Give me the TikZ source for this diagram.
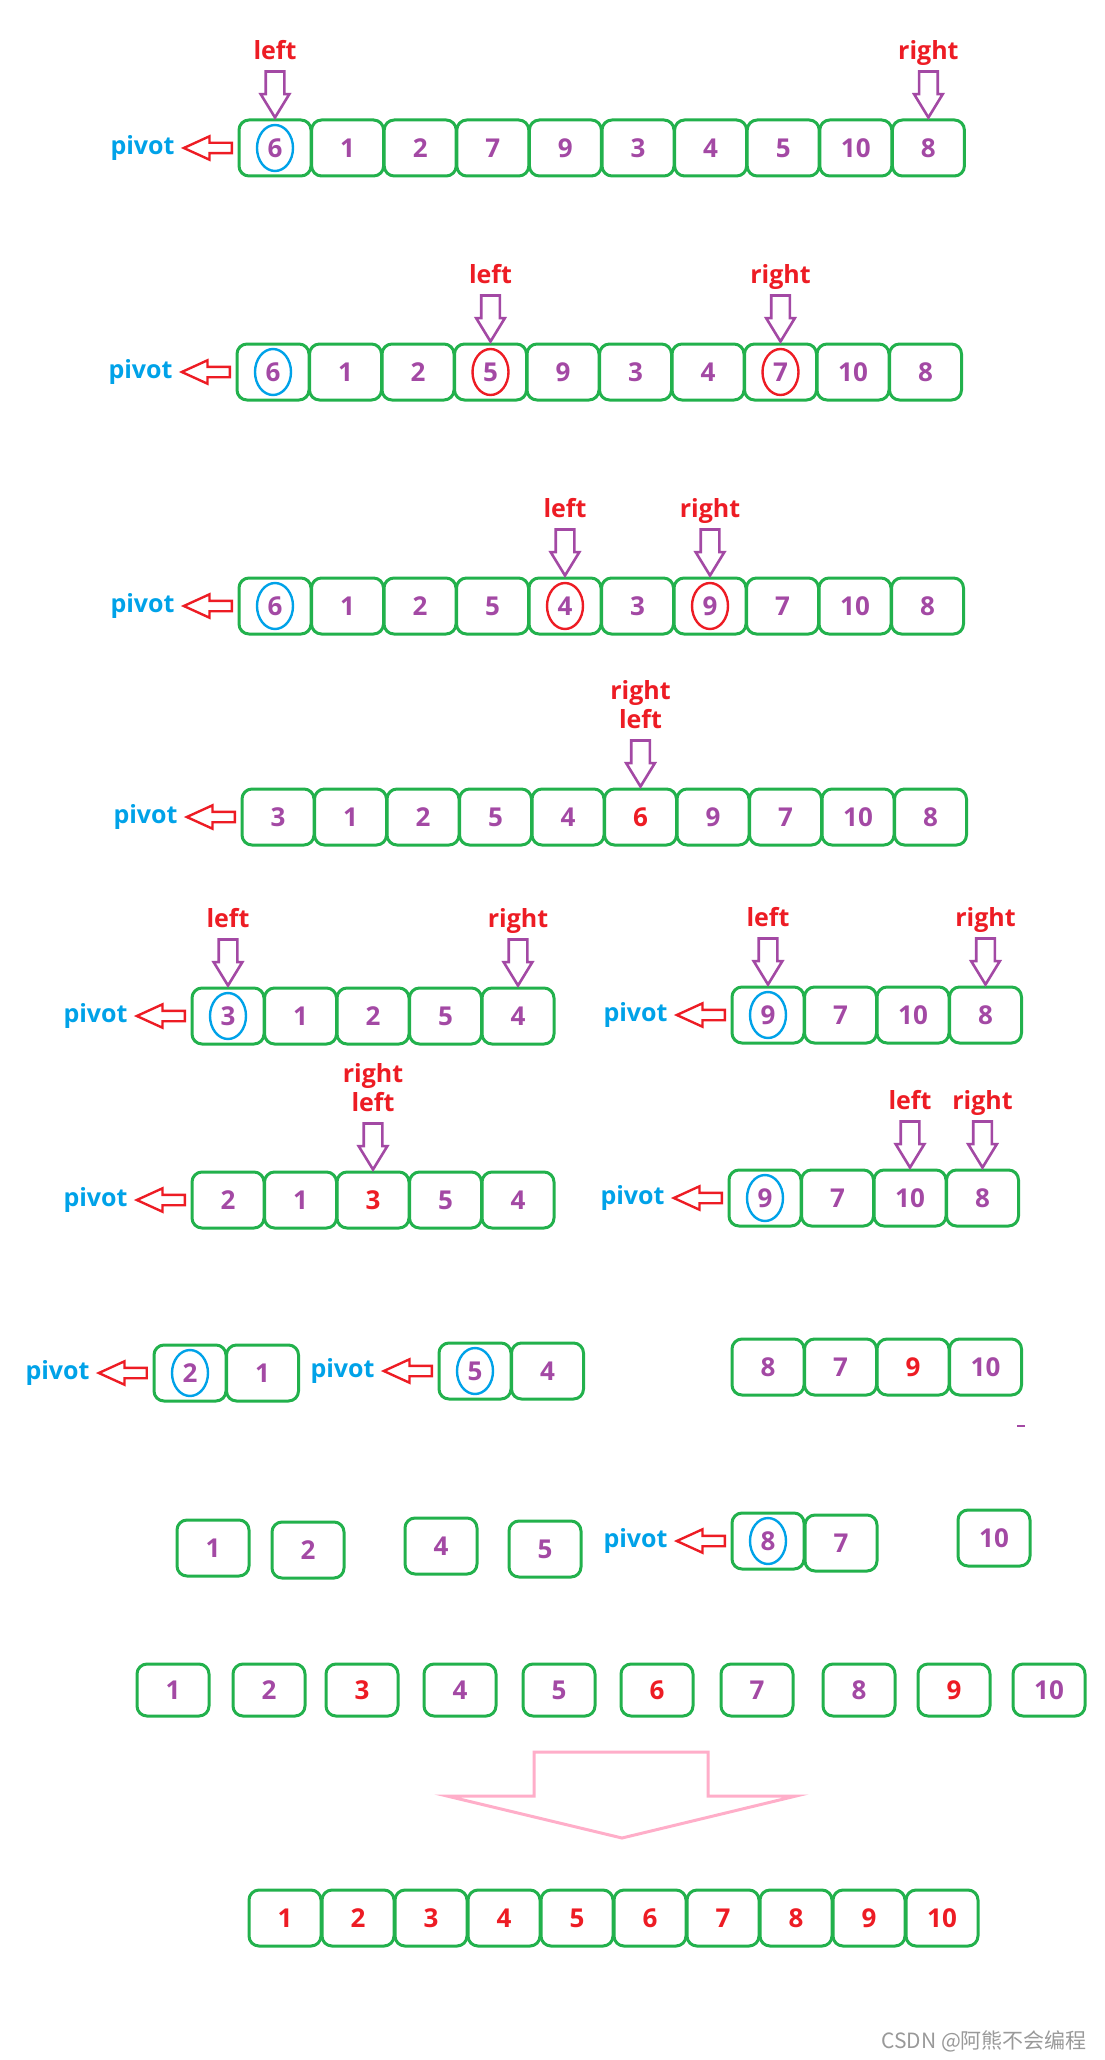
\documentclass[tikz,border=0pt]{standalone}
\usepackage{fontspec}
\setmainfont{Open Sans}
\newfontfamily\cjkfont{Noto Sans CJK SC}
\usetikzlibrary{positioning,shapes.geometric,shapes.arrows}
\definecolor{paintgreen}{HTML}{22B14C}
\definecolor{paintpurple}{HTML}{A349A4}
\definecolor{paintred}{HTML}{ED1C24}
\definecolor{paintblue}{HTML}{00A2E8}
\definecolor{paintpink}{HTML}{FFAEC9}

\begin{document}
\begin{tikzpicture}[x=0.5pt,y=-0.5pt,
  cell/.style={draw=paintgreen,line width=1.5pt,rounded corners=5pt,
              minimum width=36pt,minimum height=28pt,inner sep=0pt,outer sep=0pt,
              font=\fontsize{13}{15}\selectfont\bfseries,text=paintpurple},
  ring/.style={ellipse,draw=#1,line width=1.2pt,minimum width=18pt,
              minimum height=23pt,inner sep=0pt},
  ptr/.style={single arrow,draw=paintpurple,line width=1.3pt,shape border rotate=270,
              minimum height=23pt,single arrow head extend=2.5pt,
              single arrow tip angle=63,inner sep=4pt},
  ptrlbl/.style={font=\fontsize{12.5}{14.5}\selectfont\bfseries,text=paintred,
              align=center,inner sep=1pt,text depth=0pt},
  piv/.style={single arrow,draw=paintred,line width=1.2pt,shape border rotate=180,
              minimum height=24pt,single arrow head extend=3.25pt,
              single arrow tip angle=49,inner sep=2pt},
  pivlbl/.style={font=\fontsize{12.5}{15}\selectfont\bfseries,text=paintblue,inner sep=1pt}]
  \useasboundingbox (0,0) rectangle (1104,2060);

  % first pass
  \foreach \v [count=\i] in {6,1,2,7,9,3,4,5,10,8}
    \node[cell] (a\i) at ({202.4+72.6*\i},148) {\v};
  \node[ring=paintblue] (a1o) at (a1) {};
  \node[ptr,above=0pt of a1] (a1p) {};
  \node[ptrlbl,above=4pt of a1p] (a1t) {left};
  \node[ptr,above=0pt of a10] (a10p) {};
  \node[ptrlbl,above=4pt of a10p] (a10t) {right};
  \node[piv,left=3pt of a1] (apv) {};
  \node[pivlbl,left=2pt of apv] (apt) {pivot};

  \foreach \v [count=\i] in {6,1,2,5,9,3,4,7,10,8}
    \node[cell] (b\i) at ({200.5+72.5*\i},372) {\v};
  \node[ring=paintblue] (b1o) at (b1) {};
  \node[ring=paintred] (b4o) at (b4) {};
  \node[ring=paintred] (b8o) at (b8) {};
  \node[ptr,above=0pt of b4] (b4p) {};
  \node[ptrlbl,above=4pt of b4p] (b4t) {left};
  \node[ptr,above=0pt of b8] (b8p) {};
  \node[ptrlbl,above=4pt of b8p] (b8t) {right};
  \node[piv,left=3pt of b1] (bpv) {};
  \node[pivlbl,left=2pt of bpv] (bpt) {pivot};

  \foreach \v [count=\i] in {6,1,2,5,4,3,9,7,10,8}
    \node[cell] (c\i) at ({202.5+72.5*\i},606) {\v};
  \node[ring=paintblue] (c1o) at (c1) {};
  \node[ring=paintred] (c5o) at (c5) {};
  \node[ring=paintred] (c7o) at (c7) {};
  \node[ptr,above=0pt of c5] (c5p) {};
  \node[ptrlbl,above=4pt of c5p] (c5t) {left};
  \node[ptr,above=0pt of c7] (c7p) {};
  \node[ptrlbl,above=4pt of c7p] (c7t) {right};
  \node[piv,left=3pt of c1] (cpv) {};
  \node[pivlbl,left=2pt of cpv] (cpt) {pivot};

  \foreach \v/\c [count=\i] in {3/paintpurple,1/paintpurple,2/paintpurple,5/paintpurple,
      4/paintpurple,6/paintred,9/paintpurple,7/paintpurple,10/paintpurple,8/paintpurple}
    \node[cell,text=\c] (d\i) at ({205.5+72.5*\i},817) {\v};
  \node[ptr,above=0pt of d6] (d6p) {};
  \node[ptrlbl,above=4pt of d6p] (d6t) {right\\left};
  \node[piv,left=3pt of d1] (dpv) {};
  \node[pivlbl,left=2pt of dpv] (dpt) {pivot};

  % split: left part and right part
  \foreach \v [count=\i] in {3,1,2,5,4}
    \node[cell] (e\i) at ({155.5+72.5*\i},1016) {\v};
  \node[ring=paintblue] (e1o) at (e1) {};
  \node[ptr,above=0pt of e1] (e1p) {};
  \node[ptrlbl,above=4pt of e1p] (e1t) {left};
  \node[ptr,above=0pt of e5] (e5p) {};
  \node[ptrlbl,above=4pt of e5p] (e5t) {right};
  \node[piv,left=3pt of e1] (epv) {};
  \node[pivlbl,left=2pt of epv] (ept) {pivot};

  \foreach \v [count=\i] in {9,7,10,8}
    \node[cell] (f\i) at ({695.5+72.5*\i},1015) {\v};
  \node[ring=paintblue] (f1o) at (f1) {};
  \node[ptr,above=0pt of f1] (f1p) {};
  \node[ptrlbl,above=4pt of f1p] (f1t) {left};
  \node[ptr,above=0pt of f4] (f4p) {};
  \node[ptrlbl,above=4pt of f4p] (f4t) {right};
  \node[piv,left=3pt of f1] (fpv) {};
  \node[pivlbl,left=2pt of fpv] (fpt) {pivot};

  \foreach \v/\c [count=\i] in {2/paintpurple,1/paintpurple,3/paintred,5/paintpurple,4/paintpurple}
    \node[cell,text=\c] (g\i) at ({155.5+72.5*\i},1200) {\v};
  \node[ptr,above=0pt of g3] (g3p) {};
  \node[ptrlbl,above=4pt of g3p] (g3t) {right\\left};
  \node[piv,left=3pt of g1] (gpv) {};
  \node[pivlbl,left=2pt of gpv] (gpt) {pivot};

  \foreach \v [count=\i] in {9,7,10,8}
    \node[cell] (h\i) at ({692.5+72.5*\i},1198) {\v};
  \node[ring=paintblue] (h1o) at (h1) {};
  \node[ptr,above=0pt of h3] (h3p) {};
  \node[ptrlbl,above=4pt of h3p] (h3t) {left};
  \node[ptr,above=0pt of h4] (h4p) {};
  \node[ptrlbl,above=4pt of h4p] (h4t) {right};
  \node[piv,left=3pt of h1] (hpv) {};
  \node[pivlbl,left=2pt of hpv] (hpt) {pivot};

  % smaller parts
  \foreach \v [count=\i] in {2,1}
    \node[cell] (k\i) at ({117.5+72.5*\i},1373) {\v};
  \node[ring=paintblue] (k1o) at (k1) {};
  \node[piv,left=3pt of k1] (kpv) {};
  \node[pivlbl,left=2pt of kpv] (kpt) {pivot};

  \foreach \v [count=\i] in {5,4}
    \node[cell] (m\i) at ({402.5+72.5*\i},1371) {\v};
  \node[ring=paintblue] (m1o) at (m1) {};
  \node[piv,left=3pt of m1] (mpv) {};
  \node[pivlbl,left=2pt of mpv] (mpt) {pivot};

  \foreach \v/\c [count=\i] in {8/paintpurple,7/paintpurple,9/paintred,10/paintpurple}
    \node[cell,text=\c] (n\i) at ({695.5+72.5*\i},1367) {\v};
  \draw[paintpurple,line width=0.6pt] (1017,1426) -- (1025,1426);

  \node[cell] (s1) at (213,1548) {1};
  \node[cell] (s2) at (308,1550) {2};
  \node[cell] (s4) at (441,1546) {4};
  \node[cell] (s5) at (545,1549) {5};
  \node[cell] (t1) at (768,1541) {8};
  \node[cell] (t2) at (841,1543) {7};
  \node[ring=paintblue] (t1o) at (t1) {};
  \node[piv,left=3pt of t1] (tpv) {};
  \node[pivlbl,left=2pt of tpv] (tpt) {pivot};
  \node[cell] (s10) at (994,1538) {10};

  % all single cells
  \foreach \x/\v/\c [count=\i] in {173/1/paintpurple,269/2/paintpurple,362/3/paintred,
      460/4/paintpurple,559/5/paintpurple,657/6/paintred,757/7/paintpurple,
      859/8/paintpurple,954/9/paintred,1049/10/paintpurple}
    \node[cell,minimum height=26pt,text=\c] (u\i) at (\x,1690) {\v};

  \draw[paintpink,line width=1.5pt] (534,1752) -- (708,1752) -- (708,1796) -- (796,1796)
    -- (622,1838) -- (447,1796) -- (534,1796) -- cycle;

  \foreach \v [count=\i] in {1,...,10}
    \node[cell,text=paintred] (w\i) at ({212+73*\i},1918) {\v};

  \node[text=gray!80,font=\cjkfont\fontsize{10.5}{12}\selectfont,anchor=east]
    (mark) at (1094,2041) {CSDN @阿熊不会编程};
\end{tikzpicture}
\end{document}
